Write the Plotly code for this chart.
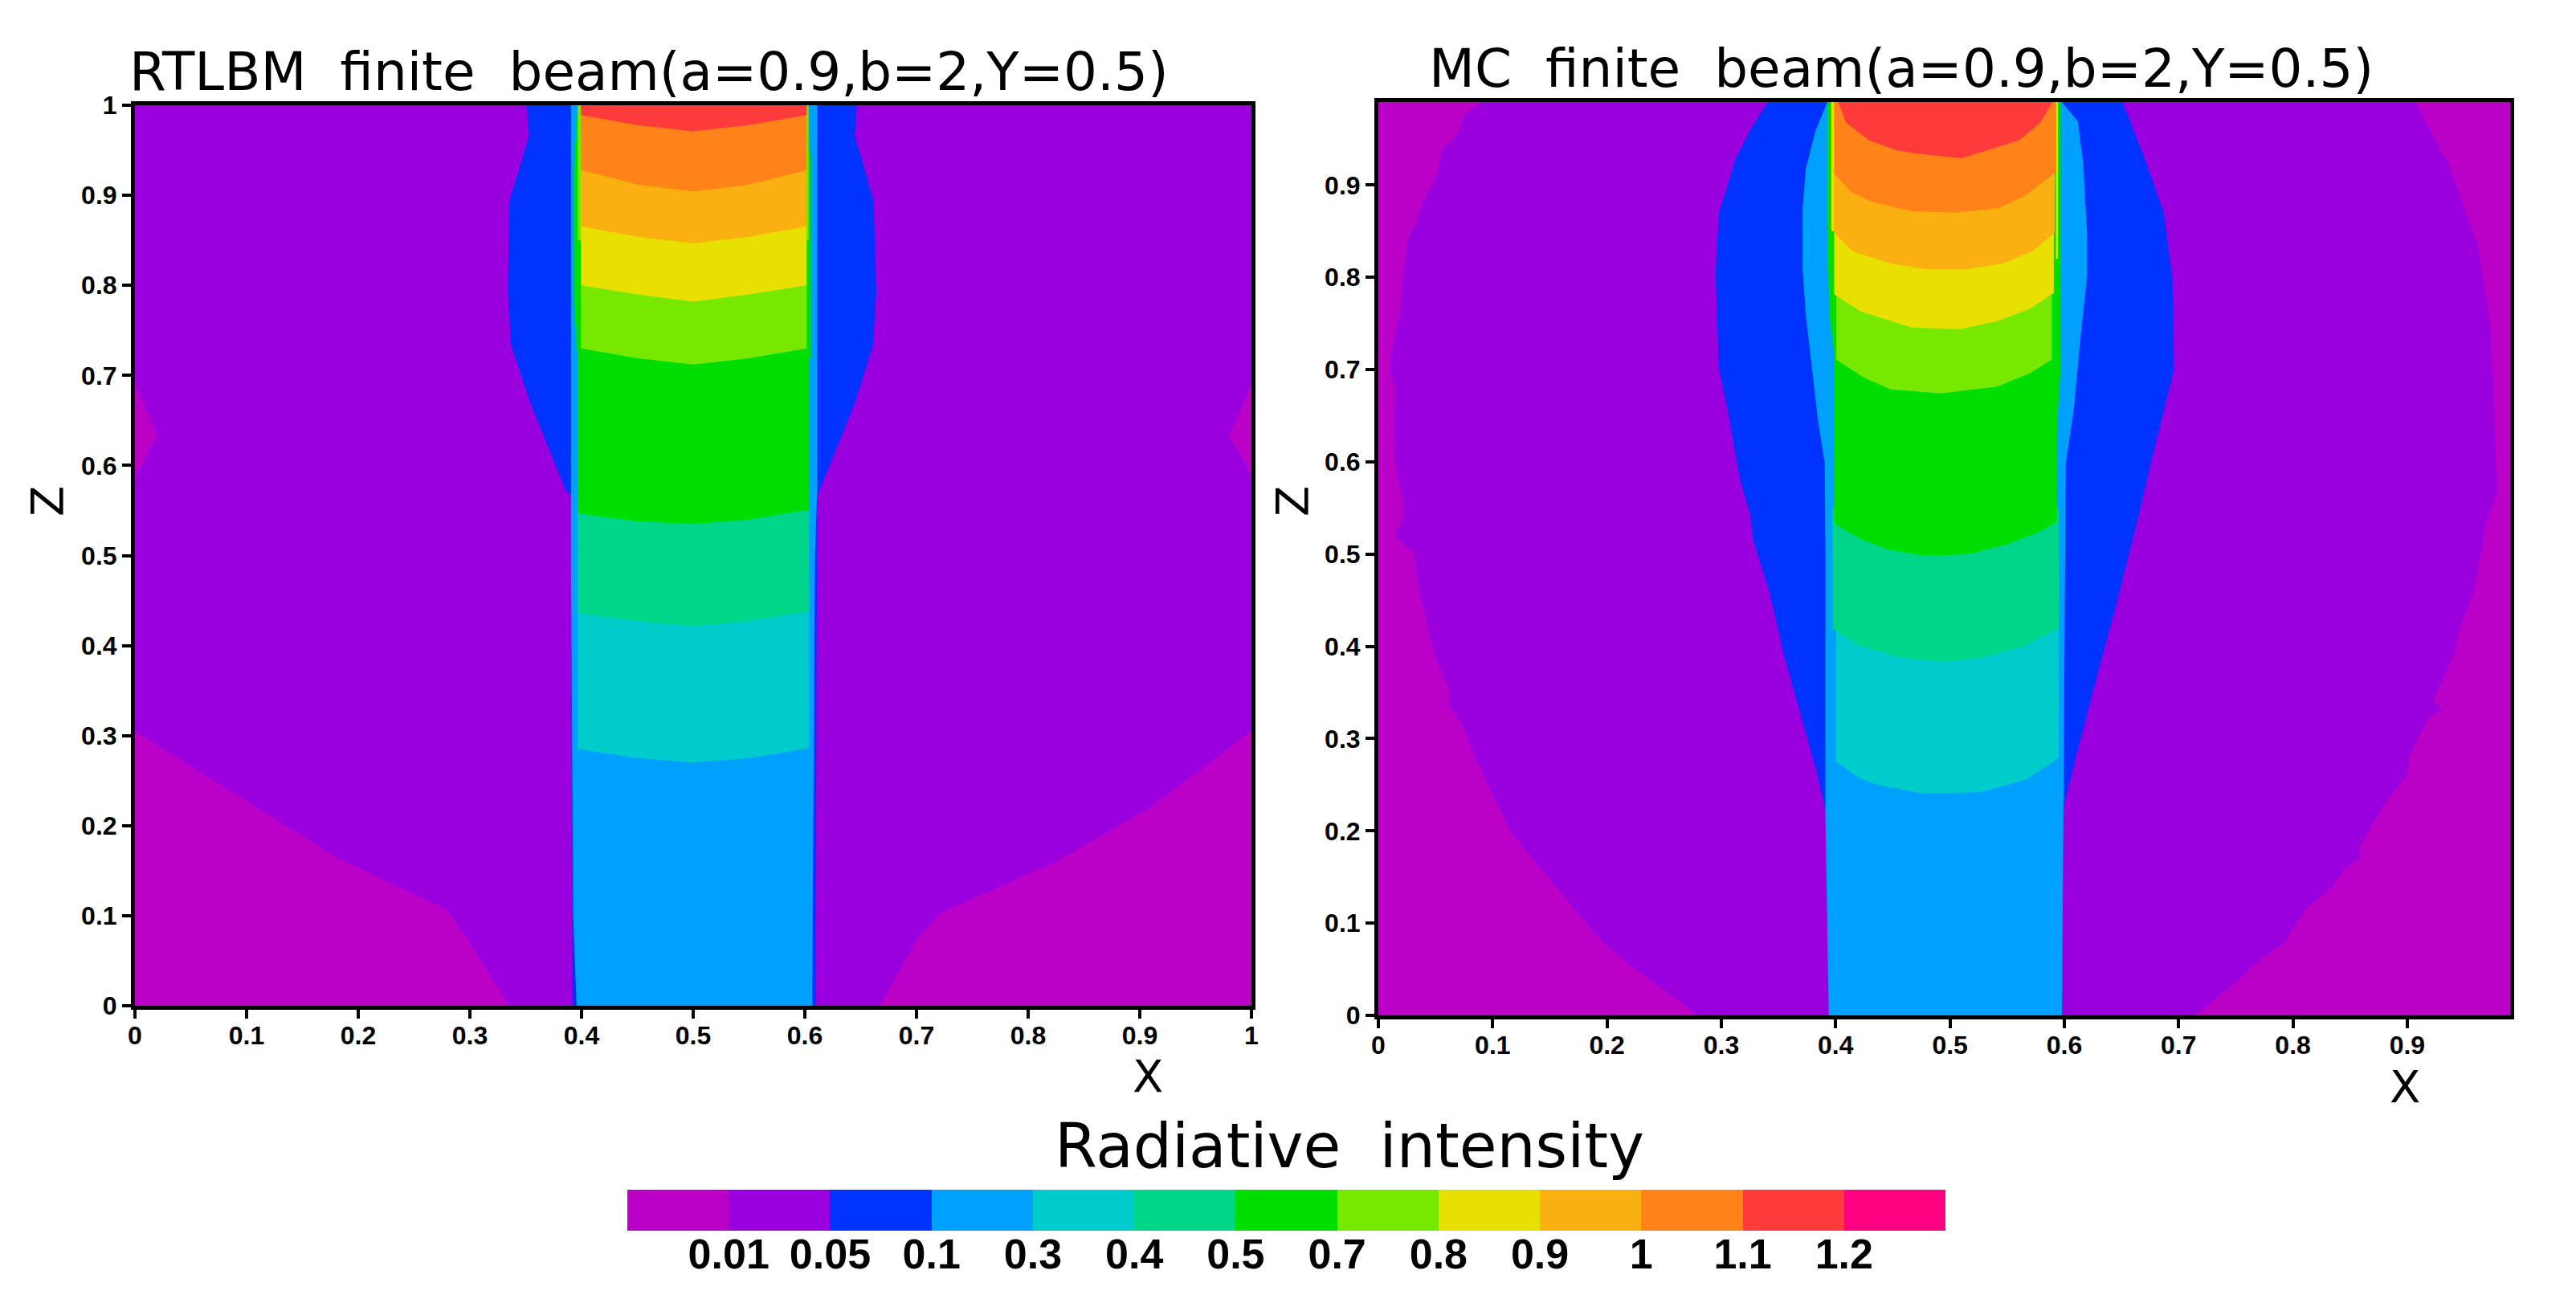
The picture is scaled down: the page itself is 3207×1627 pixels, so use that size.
import plotly.graph_objects as go

PAGE_W, PAGE_H, BODY = 3207, 1627, 8
W, H = PAGE_W - 2 * BODY, PAGE_H - 2 * BODY

# ---------- palette and legend ----------
band_colors = ["#BB00C8", "#9900DD", "#0033FF", "#00A0FF", "#00CCCC", "#00D68A", "#00DD00",
               "#77E800", "#E8E000", "#FAB010", "#FF8318", "#FF3A3A", "#FF0080"]
level_labels = ["0.01", "0.05", "0.1", "0.3", "0.4", "0.5", "0.7", "0.8", "0.9", "1", "1.1", "1.2"]
MAGENTA, PURPLE, BLUE, SKY, TEAL, SEA, GREEN, LIME, YELLOW, AMBER, ORANGE, RED, PINK = band_colors

x_ticks_left = [0, .1, .2, .3, .4, .5, .6, .7, .8, .9, 1]
x_text_left = ["0", "0.1", "0.2", "0.3", "0.4", "0.5", "0.6", "0.7", "0.8", "0.9", "1"]
x_ticks_right = x_ticks_left[:-1]
x_text_right = x_text_left[:-1]

# ---------- left panel (RTLBM) region outlines, in data units ----------
L_ll_x = [0, 0, .09, .18, .279, .30, .335]
L_ll_z = [0, .305, .235, .165, .107, .07, 0]
L_lr_x = [1, 1, .909, .825, .722, .702, .667]
L_lr_z = [0, .305, .22, .16, .103, .077, 0]
L_bl_x = [0, .02, 0]
L_bl_z = [.69, .635, .585]
L_br_x = [1, .98, 1]
L_br_z = [.69, .633, .59]
L_bluel_x = [.351, .353, .3355, .334, .337, .354, .387, .395, .395]
L_bluel_z = [1, .966, .894, .793, .733, .67, .569, .569, 1]
L_bluer_x = [.6465, .6447, .6615, .664, .661, .645, .612, .605, .605]
L_bluer_z = [1, .966, .894, .793, .733, .67, .569, .569, 1]
L_edge_x = [.392, .3905, .3905, .611, .611, .6095]
L_edge_z = [0, .57, 1, 1, .57, 0]
L_sky_x = [.3955, .3925, .3905, .3905, .611, .611, .609, .607, .6065]
L_sky_z = [0, .1, .5, 1, 1, .57, .5, .1, 0]
L_green_x = [.3966, .3966, .3932, .3932, .3966, .6016, .6058, .6058, .6034, .6034]
L_green_z = [.55, .72, .78, .93, 1, 1, .93, .72, .72, .55]
L_sliver_x = [.3966, .3966, .3995, .3995]
L_sliver_z = [.85, 1, 1, .85]
L_sliver2_x = [.6016, .6016, .6034, .6034]
L_sliver2_z = [.85, 1, 1, .85]

L_col_x = [.3995, .45, .5, .55, .6016]
L_wide_x = [.3966, .45, .5, .55, .6034]
L_teal_z = [.285, .275, .27, .275, .286]
L_sea_z = [.436, .427, .4215, .427, .438]
L_grn_z = [.547, .538, .535, .54, .551]
L_lime_z = [.730, .719, .712, .719, .730]
L_yel_z = [.80, .79, .782, .79, .80]
L_amb_z = [.8656, .854, .8465, .854, .8656]
L_org_z = [.928, .912, .904, .912, .928]
L_red_z = [.989, .978, .971, .978, .989]

# ---------- right panel (MC) region outlines, in data units ----------
R_ml_x = [.0906, .0763, .0673, .0563, .0512, .0387, .033, .0253, .0207, .019, .0127, .0098, .0153, .013, .015,
          .023, .0145, .031, .0356, .0434, .05, .063, .0607, .0733, .0843, .097, .1158, .144, .1756, .1976, .226,
          .2574, .2794]
R_ml_z = [.99, .977, .951, .94, .911, .881, .86, .841, .79, .761, .728, .7, .68, .643, .6,
          .544, .519, .501, .462, .419, .387, .35, .337, .316, .28, .248, .1986, .156, .11, .0776, .049,
          .0206, 0]
R_mr_x = [.907, .936, .962, .973, .979, .9694, .9586, .946, .9406, .9227, .9317, .919, .901, .901, .8795, .858,
          .86, .847, .8345, .813, .797, .793, .7716, .75, .714]
R_mr_z = [.99, .923, .834, .745, .567, .535, .461, .4187, .39, .341, .331, .3235, .279, .263, .228, .182,
          .17, .162, .139, .1177, .0885, .079, .061, .036, 0]
R_blue_x = [.3408, .3254, .3127, .2978, .295, .2978, .3057, .3163, .325, .328, .3423, .355, .3707, .383, .391,
            .599, .61, .6295, .6439, .6637, .676, .696, .6945, .687, .67, .651]
R_blue_z = [.99, .96, .929, .869, .805, .702, .655, .581, .544, .515, .458, .39, .32, .266, .2235,
            .2245, .279, .372, .438, .535, .60, .70, .80, .87, .93, .99]
R_sky_x = [.3928, .3823, .374, .3711, .3711, .374, .3788, .3845, .3905, .391, .391, .394, .598, .6005, .6013, .6083,
           .6142, .62, .62, .6165, .6118, .5978]
R_sky_z = [.99, .9588, .918, .8746, .808, .7587, .7064, .6455, .5987, .5, .22, 0, 0, .5, .5987, .6568,
           .735, .802, .8457, .924, .969, .99]
R_green_x = [.3928, .3928, .3945, .3985, .3987, .5927, .5927, .5967, .5967]
R_green_z = [.99, .85, .76, .72, .535, .535, .62, .70, .99]
R_sliver_x = [.3962, .3962, .3987, .3987]
R_sliver_z = [.85, .99, .99, .85]
R_sliver2_x = [.5927, .5927, .5945, .5945]
R_sliver2_z = [.82, .99, .99, .82]

R_teal_x = [.4005, .421, .4367, .474, .5, .527, .5665, .595]
R_teal_z = [.275, .257, .25, .241, .241, .242, .2555, .279]
R_sea_x = [.3974, .421, .4525, .474, .5, .527, .565, .595]
R_sea_z = [.419, .401, .389, .385, .3837, .3876, .40, .4205]
R_grn_x = [.399, .421, .446, .474, .489, .516, .5485, .577, .5935]
R_grn_z = [.533, .517, .505, .499, .4985, .50, .51, .5235, .535]
R_lime_x = [.4006, .4244, .4479, .4924, .5416, .5697, .589]
R_lime_z = [.7108, .6916, .6786, .6742, .6815, .696, .7108]
R_yel_x = [.3987, .422, .4666, .5088, .5416, .5697, .5908]
R_yel_z = [.7816, .763, .7456, .7439, .7526, .7657, .783]
R_amb_x = [.3987, .4151, .4478, .4783, .5135, .546, .572, .5918]
R_amb_z = [.8484, .8281, .815, .809, .8086, .815, .828, .8484]
R_org_x = [.3987, .4127, .4315, .4666, .504, .5416, .565, .5885, .5927]
R_org_z = [.9125, .8934, .8818, .8716, .870, .8746, .8876, .9094, .914]
R_red_x = [.4022, .4092, .429, .4526, .4713, .51, .5346, .5605, .579, .5896]
R_red_z = [.99, .9675, .9486, .938, .934, .929, .9384, .9486, .9675, .99]

# ---------- page layout (boxes are page pixels) ----------
L_box = (168, 1558, 131, 1252)
R_box = (1716, 3125, 127, 1264)
C_box = (781, 2422, 1481, 1532)


def px(v):
    return (v - BODY) / W


def py(v):
    return 1 - (v - BODY) / H


def xdom(b):
    return [px(b[0]), px(b[1])]


def ydom(b):
    return [py(b[3]), py(b[2])]


fig = go.Figure()


def poly(xs, zs, color, ax):
    fig.add_trace(go.Scatter(x=list(xs) + [xs[0]], y=list(zs) + [zs[0]], mode="lines", fill="toself",
                             fillcolor=color, line=dict(width=0), hoverinfo="skip", showlegend=False,
                             xaxis="x" + ax, yaxis="y" + ax))


def above(xs, zs, top):
    return list(xs) + [xs[-1], xs[0]], list(zs) + [top, top]


# left panel
poly([0, 1, 1, 0], [0, 0, 1, 1], PURPLE, "")
for a, b in [(L_ll_x, L_ll_z), (L_lr_x, L_lr_z), (L_bl_x, L_bl_z), (L_br_x, L_br_z)]:
    poly(a, b, MAGENTA, "")
poly(L_bluel_x, L_bluel_z, BLUE, "")
poly(L_bluer_x, L_bluer_z, BLUE, "")
poly(L_edge_x, L_edge_z, BLUE, "")
poly(L_sky_x, L_sky_z, SKY, "")
poly(*above(L_wide_x, L_teal_z, .55), TEAL, "")
poly(*above(L_wide_x, L_sea_z, .56), SEA, "")
poly(L_green_x, L_green_z, GREEN, "")
poly(*above(L_wide_x, L_grn_z, .74), GREEN, "")
poly(L_sliver_x, L_sliver_z, LIME, "")
poly(L_sliver2_x, L_sliver2_z, LIME, "")
poly(*above(L_col_x, L_lime_z, 1), LIME, "")
poly(*above(L_col_x, L_yel_z, 1), YELLOW, "")
poly(*above(L_col_x, L_amb_z, 1), AMBER, "")
poly(*above(L_col_x, L_org_z, 1), ORANGE, "")
poly(*above(L_col_x, L_red_z, 1), RED, "")

# right panel
poly([0, .99, .99, 0], [0, 0, .99, .99], PURPLE, "2")
poly([0] + R_ml_x[::-1] + [0], [0] + R_ml_z[::-1] + [.99], MAGENTA, "2")
poly([.99] + R_mr_x[::-1] + [.99], [0] + R_mr_z[::-1] + [.99], MAGENTA, "2")
poly(R_blue_x, R_blue_z, BLUE, "2")
poly(R_sky_x, R_sky_z, SKY, "2")
poly(*above(R_teal_x, R_teal_z, .5), TEAL, "2")
poly(*above(R_sea_x, R_sea_z, .55), SEA, "2")
poly(R_green_x, R_green_z, GREEN, "2")
poly(*above(R_grn_x, R_grn_z, .72), GREEN, "2")
poly(R_sliver_x, R_sliver_z, YELLOW, "2")
poly(R_sliver2_x, R_sliver2_z, YELLOW, "2")
poly(*above(R_lime_x, R_lime_z, .99), LIME, "2")
poly(*above(R_yel_x, R_yel_z, .99), YELLOW, "2")
poly(*above(R_amb_x, R_amb_z, .99), AMBER, "2")
poly(*above(R_org_x, R_org_z, .99), ORANGE, "2")
poly(*above(R_red_x, R_red_z, .99), RED, "2")

# legend strip
n = len(band_colors)
scale = []
for i, c in enumerate(band_colors):
    scale += [[i / n, c], [(i + 1) / n, c]]
fig.add_trace(go.Heatmap(z=[list(range(n))], x=list(range(n)), y=[0], colorscale=scale, zmin=-.5, zmax=n - .5,
                         showscale=False, hoverinfo="skip", xaxis="x3", yaxis="y3"))

tick_font = dict(family="Liberation Sans", size=32, color="black", weight=700)
common = dict(automargin=False, showgrid=False, zeroline=False, showline=True, linecolor="black", linewidth=5,
              mirror=True, ticks="outside", ticklen=11, tickwidth=4, tickcolor="black", tickfont=tick_font)

fig.update_layout(
    template="none",
    width=W, height=H, autosize=False, margin=dict(l=0, r=0, t=0, b=0, pad=0),
    paper_bgcolor="white", plot_bgcolor="white", showlegend=False,
    xaxis=dict(domain=xdom(L_box), range=[0, 1], tickvals=x_ticks_left, ticktext=x_text_left,
               ticklabelstandoff=-6, **common),
    yaxis=dict(domain=ydom(L_box), range=[0, 1], tickvals=x_ticks_left, ticktext=x_text_left, **common),
    xaxis2=dict(domain=xdom(R_box), range=[0, .99], tickvals=x_ticks_right, ticktext=x_text_right,
                anchor="y2", ticklabelstandoff=-6, **common),
    yaxis2=dict(domain=ydom(R_box), range=[0, .99], tickvals=x_ticks_right, ticktext=x_text_right,
                anchor="x2", **common),
    xaxis3=dict(automargin=False, domain=xdom(C_box), range=[-.5, n - .5], anchor="y3", showgrid=False,
                zeroline=False, showline=False, tickvals=[i + .5 for i in range(n - 1)], ticktext=level_labels,
                ticks="", ticklabelstandoff=-6,
                tickfont=dict(family="Liberation Sans", size=52, color="black", weight=700)),
    yaxis3=dict(automargin=False, domain=ydom(C_box), range=[-.5, .5], anchor="x3", showgrid=False, zeroline=False,
                showline=False, showticklabels=False, ticks=""),
)


def note(text, x_pix, y_pix, size, angle=0):
    fig.add_annotation(text=text, x=px(x_pix), y=py(y_pix), xref="paper", yref="paper", showarrow=False,
                       xanchor="center", yanchor="middle", textangle=angle,
                       font=dict(family="DejaVu Sans", size=size, color="black"))


note("RTLBM\u00a0\u00a0finite\u00a0\u00a0beam(a=0.9,b=2,Y=0.5)", 808, 89, 66)
note("MC\u00a0\u00a0finite\u00a0\u00a0beam(a=0.9,b=2,Y=0.5)", 2367, 86, 66)
note("Radiative\u00a0\u00a0intensity", 1680, 1426, 76)
note("X", 1429, 1339, 56)
note("X", 2994, 1352, 56)
note("Z", 58, 624, 56, -90)
note("Z", 1608, 624, 56, -90)

fig.write_html("out.html")
